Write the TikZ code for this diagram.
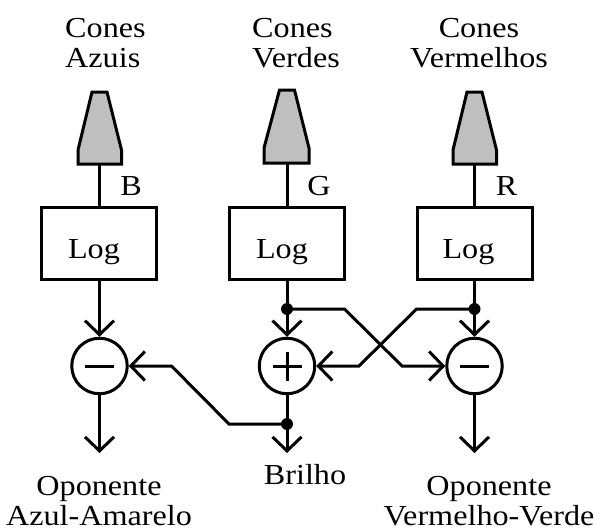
\documentclass[tikz,border=0pt]{standalone}
\usepackage{fontspec}
\setmainfont[FakeStretch=1.11]{Liberation Serif}
\usetikzlibrary{arrows.meta}
\definecolor{conegray}{gray}{0.75}
\tikzset{
  lw/.style={line width=3pt},
  wire/.style={lw,line join=miter},
  arrowwire/.style={wire,-{Straight Barb[length=14pt,width=29pt,line width=3pt]}},
  logbox/.style={draw,lw,minimum width=115pt,minimum height=71.5pt,inner sep=0pt},
  sumnode/.style={circle,draw,lw,fill=white,minimum size=55.5pt,inner sep=0pt},
  dotnode/.style={circle,fill=black,minimum size=12pt,inner sep=0pt},
  cone/.style={draw,lw,fill=conegray,line join=miter},
  lab/.style={inner sep=0pt,font=\fontsize{29}{29.5}\selectfont},
}
\begin{document}
\begin{tikzpicture}[x=1pt,y=-1pt]
\useasboundingbox (0,0) rectangle (598,530);
% cones
\draw[cone] (92,92) -- (107,92) -- (121.5,150) -- (121.5,164) -- (78,164) -- (78,150) -- cycle;
\draw[cone] (279.5,90) -- (294.5,90) -- (309,148) -- (309,163) -- (264,163) -- (264,148) -- cycle;
\draw[cone] (467,92) -- (482,92) -- (496.5,150) -- (496.5,164) -- (453,164) -- (453,150) -- cycle;
\coordinate (coneb) at (99.5,164); \coordinate (coneg) at (287,163); \coordinate (coner) at (474.5,164);
% boxes
\node[logbox] (logb) at (98.5,243.5) {}; \node[lab,anchor=base] (logbt) at (94,258) {Log};
\node[logbox] (logg) at (287,243.5) {}; \node[lab,anchor=base] (loggt) at (282,258) {Log};
\node[logbox] (logr) at (474.5,243.5) {}; \node[lab,anchor=base] (logrt) at (468.5,258) {Log};
% sums
\node[sumnode] (sb) at (99.5,366) {};
\node[sumnode] (sg) at (287,366) {};
\node[sumnode] (sr) at (474.5,366) {};
\draw[lw] ([xshift=-14.5pt]sb.center) -- ([xshift=14.5pt]sb.center);
\draw[lw] ([xshift=-14.5pt]sg.center) -- ([xshift=14.5pt]sg.center);
\draw[lw] ([yshift=-14.5pt]sg.center) -- ([yshift=14.5pt]sg.center);
\draw[lw] ([xshift=-14.5pt]sr.center) -- ([xshift=14.5pt]sr.center);
% dots
\node[dotnode] (dg) at (287,309) {};
\node[dotnode] (dr) at (474.5,309) {};
\node[dotnode] (dl) at (287,424) {};
% outputs
\coordinate (ob) at (99.5,453); \coordinate (og) at (287,453); \coordinate (or) at (474.5,453);
% vertical wires
\draw[wire] (coneb) -- (coneb |- logb.north);
\draw[wire] (coneg) -- (coneg |- logg.north);
\draw[wire] (coner) -- (coner |- logr.north);
\draw[arrowwire] (sb |- logb.south) -- (sb.north);
\draw[arrowwire] (logg.south) -- (sg.north);
\draw[arrowwire] (logr.south) -- (sr.north);
\draw[arrowwire] (sb.south) -- (ob);
\draw[arrowwire] (sg.south) -- (og);
\draw[arrowwire] (sr.south) -- (or);
% cross wires
\draw[arrowwire] (dg.center) -- (344.5,309) -- (402,366) -- (sr.west);
\draw[arrowwire] (dr.center) -- (416.5,309) -- (359,366) -- (sg.east);
\draw[arrowwire] (dl.center) -- (229,424) -- (171.5,366) -- (sb.east);
% labels
\node[lab,align=left,anchor=west] (tb) at (65,43) {Cones\\Azuis};
\node[lab,align=left,anchor=west] (tg) at (252,43) {Cones\\Verdes};
\node[lab,align=center] (tr) at (479,43) {Cones\\Vermelhos};
\node[lab,anchor=base] (lb) at (131,195) {B};
\node[lab,anchor=base] (lg) at (319,195) {G};
\node[lab,anchor=base] (lr) at (506.5,195) {R};
\node[lab,anchor=base] (br) at (305,484) {Brilho};
\node[lab,align=center] (opb) at (99,501) {Oponente\\Azul-Amarelo};
\node[lab,align=center] (opr) at (489,501) {Oponente\\Vermelho-Verde};
\end{tikzpicture}
\end{document}
